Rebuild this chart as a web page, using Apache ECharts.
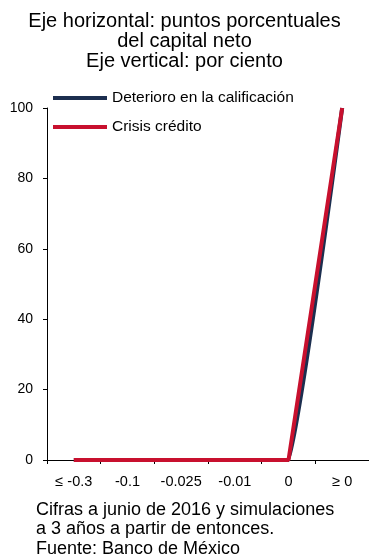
<!DOCTYPE html>
<html>
<head>
<meta charset="utf-8">
<script src="https://cdn.jsdelivr.net/npm/echarts@6/dist/echarts.min.js"></script>
<style>html,body{margin:0;padding:0;background:#fff;}#c{width:369px;height:559px;}</style>
</head>
<body>
<div id="c"></div>
<script>
const titleLines = ['Eje horizontal: puntos porcentuales', 'del capital neto', 'Eje vertical: por ciento'];
const footerLines = ['Cifras a junio de 2016 y simulaciones', 'a 3 años a partir de entonces.', 'Fuente: Banco de México'];
const categories = ['≤ -0.3', '-0.1', '-0.025', '-0.01', '0', '≥ 0'];
const seriesNames = ['Deterioro en la calificación', 'Crisis crédito'];
const deterioro = [0, 0, 0, 0, 0, 100];
const crisis = [0, 0, 0, 0, 0, 100];
const colors = ['#1c2e4f', '#c8102e'];

const FONT = 'Liberation Sans';
const chart = echarts.init(document.getElementById('c'), null, {renderer: 'canvas'});
chart.setOption({
  animation: false,
  textStyle: {fontFamily: FONT},
  title: [
    {text: titleLines.join('\n'), left: 'center', top: 6,
     textStyle: {fontFamily: FONT, fontSize: 20, fontWeight: 'normal', color: '#000', lineHeight: 20}},
    {text: footerLines.join('\n'), left: 31, top: 495,
     textStyle: {fontFamily: FONT, fontSize: 18, fontWeight: 'normal', color: '#000', lineHeight: 19.5}}
  ],
  legend: {
    orient: 'vertical', left: 48, top: 84, itemWidth: 54, itemHeight: 4, itemGap: 11,
    icon: 'rect',
    textStyle: {fontFamily: FONT, fontSize: 15.5, color: '#000', lineHeight: 18},
    data: seriesNames
  },
  grid: {left: 47, right: -8, top: 108, bottom: 99, containLabel: false},
  xAxis: {
    type: 'category', data: categories, boundaryGap: true,
    axisLine: {lineStyle: {color: '#000', width: 1}},
    axisTick: {show: true, alignWithLabel: false, length: 4, lineStyle: {color: '#000'}},
    axisLabel: {color: '#000', fontFamily: FONT, fontSize: 14.5, margin: 14, interval: 0}
  },
  yAxis: {
    type: 'value', min: 0, max: 100, interval: 20,
    splitLine: {show: false},
    axisLine: {show: true, lineStyle: {color: '#000', width: 1}},
    axisTick: {show: true, length: 4, lineStyle: {color: '#000'}},
    axisLabel: {color: '#000', fontFamily: FONT, fontSize: 14, margin: 14}
  },
  series: [
    {name: seriesNames[0], type: 'line', data: deterioro, symbol: 'none', smooth: 0.07,
     lineStyle: {color: colors[0], width: 4}, itemStyle: {color: colors[0]}},
    {name: seriesNames[1], type: 'line', data: crisis, symbol: 'none',
     lineStyle: {color: colors[1], width: 4}, itemStyle: {color: colors[1]}}
  ]
});
</script>
</body>
</html>
